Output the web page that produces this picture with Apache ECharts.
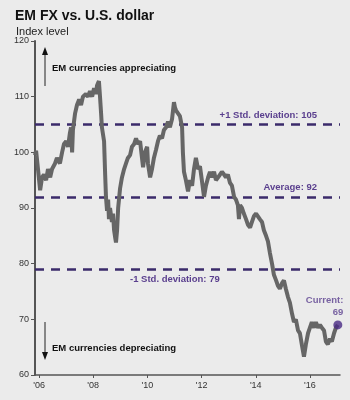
<!DOCTYPE html>
<html>
<head>
<meta charset="utf-8">
<script src="https://cdn.jsdelivr.net/npm/echarts@6/dist/echarts.min.js"></script>
<style>
html,body{margin:0;padding:0;background:#ebebeb;}
#c{width:350px;height:400px;}
</style>
</head>
<body>
<div id="c"></div>
<script>
// Time in decimal years
var times = [2005.85,2005.89,2005.96,2006.04,2006.11,2006.18,2006.26,2006.33,2006.41,2006.48,2006.59,2006.66,2006.77,2006.85,2006.92,2007.00,2007.07,2007.14,2007.18,2007.22,2007.25,2007.33,2007.40,2007.48,2007.55,2007.62,2007.73,2007.81,2007.88,2007.96,2008.03,2008.10,2008.14,2008.21,2008.25,2008.29,2008.32,2008.40,2008.44,2008.47,2008.51,2008.55,2008.58,2008.62,2008.69,2008.73,2008.77,2008.80,2008.84,2008.88,2008.92,2008.99,2009.06,2009.14,2009.21,2009.28,2009.36,2009.43,2009.51,2009.58,2009.65,2009.73,2009.80,2009.84,2009.91,2009.99,2010.02,2010.10,2010.17,2010.24,2010.32,2010.39,2010.46,2010.54,2010.61,2010.69,2010.76,2010.83,2010.91,2010.98,2011.02,2011.06,2011.13,2011.20,2011.28,2011.31,2011.35,2011.42,2011.50,2011.57,2011.65,2011.72,2011.79,2011.87,2011.94,2012.01,2012.09,2012.16,2012.24,2012.31,2012.38,2012.46,2012.53,2012.61,2012.68,2012.75,2012.83,2012.90,2012.97,2013.05,2013.12,2013.20,2013.27,2013.34,2013.38,2013.42,2013.49,2013.56,2013.64,2013.71,2013.79,2013.86,2013.93,2014.01,2014.08,2014.15,2014.23,2014.30,2014.38,2014.45,2014.52,2014.60,2014.67,2014.75,2014.82,2014.89,2014.97,2015.04,2015.11,2015.19,2015.26,2015.34,2015.41,2015.48,2015.56,2015.63,2015.70,2015.78,2015.85,2015.93,2016.00,2016.07,2016.15,2016.22,2016.30,2016.37,2016.44,2016.52,2016.59,2016.66,2016.74,2016.81,2016.89,2016.96,2017.03];
var values = [99.5,100.3,97,93.2,95.5,96,95,97,95.5,97,98,99,98,100,101.5,102,101,103.5,104.5,100,104,107,108.5,109.5,108.5,110,110.5,110,111,110,111.5,110.5,112,112.8,110,107,104.5,102,96,92,89.5,91.5,88,90,87.5,89,86,85,83.8,86,90,93.5,95.5,97,98,99,99.5,101,101.5,102.5,101.5,102,99,97.3,100,101,98,95.5,97,99,100.5,102,103,102.5,104,104.5,105.5,104.5,106,109,108,107.5,107,106.5,104.5,100,96.5,95,93,95,94,97,99,97,97.5,95,92,94,95.5,96.5,95.5,96.5,95,95.5,96,96.5,96,95.5,96,94.5,94,92,91.5,90.5,88,90.5,90,89,88,87,86.5,87.5,88.5,89,88.5,88,87.5,86,85,84,82,80,78,77,76,75.5,76.5,77,75.5,74,73,71,69.5,70,68,67.5,65.5,63.3,65.5,67.5,68.5,69.5,68.5,69.5,68.5,69,68.5,68,66,65.5,66.5,66,67.5,68.5,69];
var yearTicks = [2006,2008,2010,2012,2014,2016];
var refValues = [105, 92, 79];
var refNames = ['+1 Std. deviation', 'Average', '-1 Std. deviation'];

var seriesData = times.map(function(t,i){return [t, values[i]];});
var last = seriesData[seriesData.length-1];
var purple = '#5a3f8e';
var dash = '#3b2b6b';
var font = 'Liberation Sans, Arial, sans-serif';

var chart = echarts.init(document.getElementById('c'));
chart.setOption({
  backgroundColor: '#ebebeb',
  animation: false,
  title: [
    {text: 'EM FX vs. U.S. dollar', left: 10, top: 4,
     textStyle: {fontSize: 14, fontWeight: 'bold', color: '#111', fontFamily: font}},
    {text: 'Index level', left: 11, top: 21,
     textStyle: {fontSize: 11, fontWeight: 'normal', color: '#222', fontFamily: font}}
  ],
  grid: {left: 35, right: 10, top: 41, bottom: 25},
  xAxis: {
    type: 'value', min: 2005.85, max: 2017.11,
    axisLine: {lineStyle: {color: '#555', width: 1.5}},
    axisTick: {show: true, customValues: yearTicks, length: 3, lineStyle: {color: '#555'}},
    axisLabel: {customValues: yearTicks, fontSize: 9, color: '#333', fontFamily: font, margin: 6,
      formatter: function(v){return "'" + String(v).slice(2);}},
    splitLine: {show: false}
  },
  yAxis: {
    type: 'value', min: 60, max: 120, interval: 10,
    axisLine: {show: true, lineStyle: {color: '#555', width: 2}},
    axisTick: {show: true, length: 4, lineStyle: {color: '#555'}},
    axisLabel: {fontSize: 9, color: '#333', fontFamily: font, margin: 6},
    splitLine: {show: false}
  },
  graphic: [
    {type: 'line', shape: {x1: 45, y1: 86, x2: 45, y2: 53}, style: {stroke: '#222', lineWidth: 1}},
    {type: 'polygon', shape: {points: [[42, 55], [48, 55], [45, 47]]}, style: {fill: '#111'}},
    {type: 'text', left: 52, top: 63, style: {text: 'EM currencies appreciating', font: 'bold 9.5px ' + font, fill: '#111'}},
    {type: 'line', shape: {x1: 45, y1: 322, x2: 45, y2: 354}, style: {stroke: '#222', lineWidth: 1}},
    {type: 'polygon', shape: {points: [[42, 352], [48, 352], [45, 360]]}, style: {fill: '#111'}},
    {type: 'text', left: 52, top: 343, style: {text: 'EM currencies depreciating', font: 'bold 9.5px ' + font, fill: '#111'}}
  ],
  series: [
    {
      type: 'line', data: seriesData, showSymbol: false, symbol: 'none',
      lineStyle: {color: '#666', width: 4},
      z: 3,
      markLine: {
        silent: true, symbol: 'none', z: 2,
        lineStyle: {color: dash, width: 2.5, type: [9, 7]},
        data: [
          {yAxis: refValues[0], label: {position: 'insideEndTop', distance: [23, 4], formatter: refNames[0] + ': ' + refValues[0]}},
          {yAxis: refValues[1], label: {position: 'insideEndTop', distance: [23, 4], formatter: refNames[1] + ': ' + refValues[1]}},
          {yAxis: refValues[2], label: {position: 'insideStartBottom', distance: [95, 5], formatter: refNames[2] + ': ' + refValues[2]}}
        ],
        label: {color: purple, fontSize: 9.5, fontWeight: 'bold', fontFamily: font}
      }
    },
    {
      type: 'scatter', data: [last], symbolSize: 9, z: 5,
      itemStyle: {color: '#4a2b85'},
      label: {show: true, position: [10, -26], align: 'right', verticalAlign: 'top',
        color: purple, fontSize: 9.5, fontWeight: 'bold', fontFamily: font, lineHeight: 12,
        formatter: function(p){return 'Current:\n' + Math.round(p.value[1]);}}
    }
  ]
});
</script>
</body>
</html>
